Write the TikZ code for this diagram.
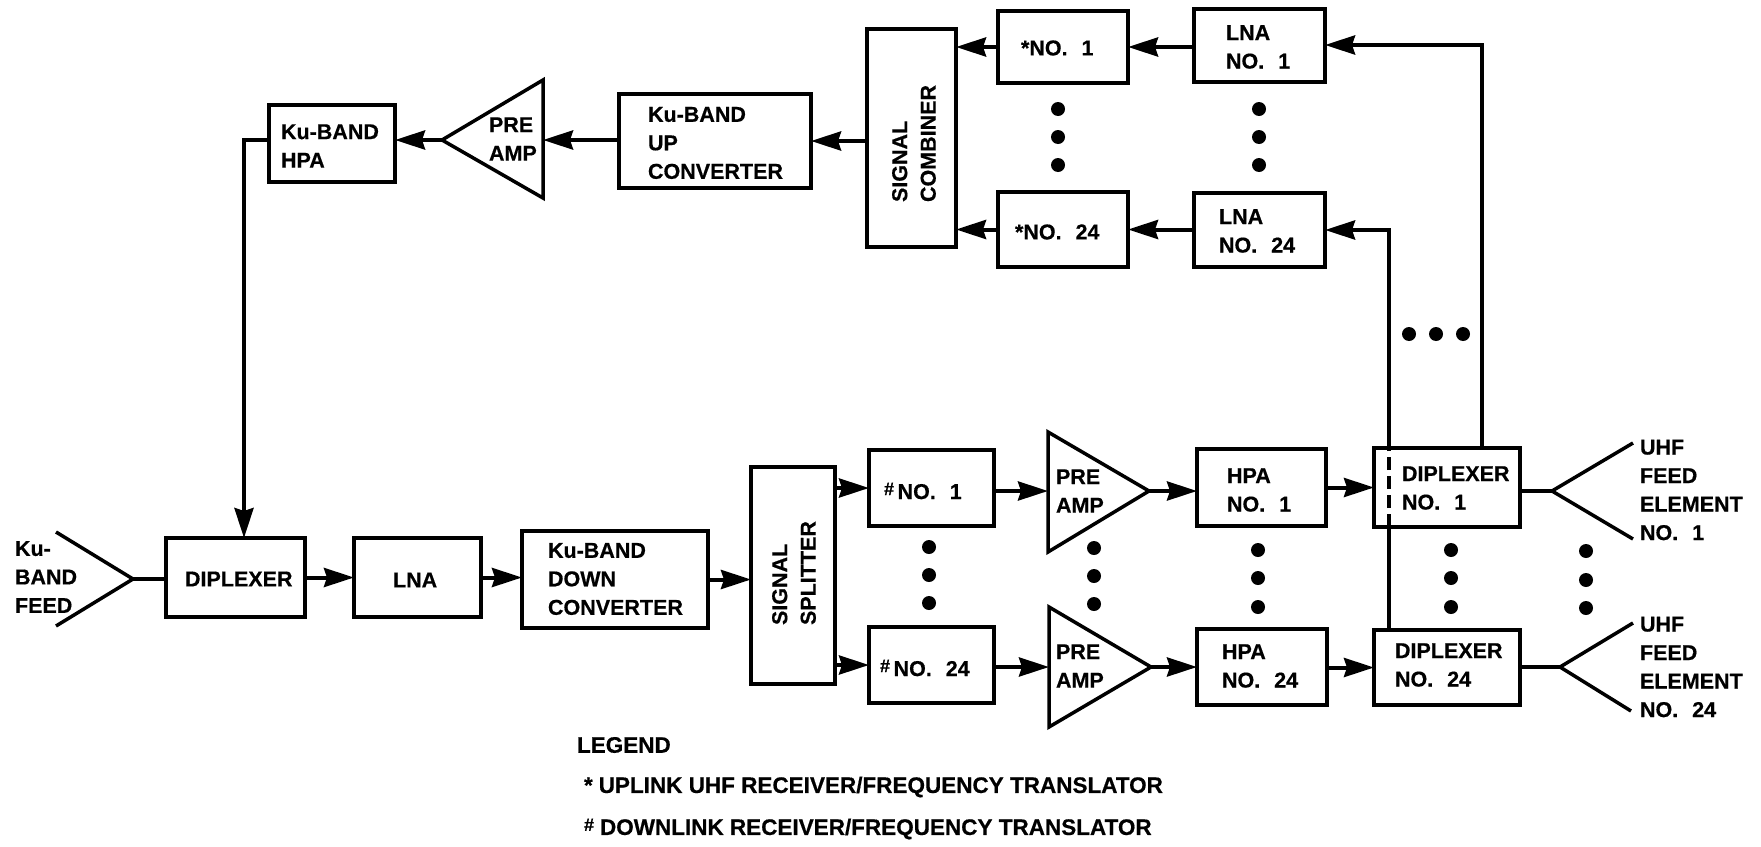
\documentclass[tikz,border=0pt]{standalone}
\usepackage{fontspec}
\setmainfont[BoldFeatures={FakeBold=0.5}]{Liberation Sans}
\usetikzlibrary{arrows.meta}
\newcommand\nsp{\hspace{8pt}}
\tikzset{
  boxn/.style={draw=black,line width=3.5pt,rectangle,inner sep=0pt,outer sep=0pt,fill=white},
  lbl/.style={anchor=west,align=left,inner sep=0pt,outer sep=0pt,font=\bfseries\fontsize{21.5}{28.5}\selectfont},
  leg/.style={anchor=west,inner sep=0pt,outer sep=0pt,font=\bfseries\fontsize{22.5}{24}\selectfont},
  rlbl/.style={lbl,rotate=90},
  wire/.style={line width=4pt,black},
  arr/.style={wire,-{Stealth[length=30pt,width=19pt,inset=3pt]}},
  thin wire/.style={line width=3.5pt,black},
  tri/.style={draw=black,line width=3.5pt,line join=miter},
  horn/.style={line width=3.5pt,black,line join=miter}
}
\newcommand\bx[5]{\node[boxn,minimum width={(#4-#2)*1pt},minimum height={(#5-#3)*1pt}] (#1) at ({(#2+#4)/2},{(#3+#5)/2}) {};}
\newcommand\dotv[2]{\fill[black] (#1,#2) circle (7);}
\newcommand\mk{{\fontsize{18}{18}\selectfont\raisebox{4pt}{\#}}}
\begin{document}
\begin{tikzpicture}[x=1pt,y=-1pt]
\useasboundingbox[fill=white] (0,0) rectangle (1761,846);

% boxes
\bx{hpaKu}{269}{105}{395}{182}
\bx{upc}{619}{94}{811}{188}
\bx{comb}{867}{29}{956}{247}
\bx{rxa}{998}{11}{1128}{83}
\bx{rxb}{998}{192}{1128}{267}
\bx{lnaa}{1194}{9}{1325}{82}
\bx{lnab}{1194}{193}{1325}{267}
\bx{dipK}{166}{538}{305}{617}
\bx{lnaK}{354}{538}{481}{617}
\bx{dnc}{522}{531}{708}{628}
\bx{split}{751}{467}{835}{684}
\bx{txa}{869}{450}{994}{526}
\bx{txb}{869}{627}{994}{703}
\bx{hpaa}{1197}{449}{1326}{526}
\bx{hpab}{1197}{629}{1327}{705}
\bx{dipa}{1374}{448}{1520}{527}
\bx{dipb}{1374}{630}{1520}{705}

% amplifier triangles
\coordinate (paU) at (442,140); \coordinate (paUb) at (543,140);
\draw[tri] (paU) -- (543,80) -- (543,198) -- cycle;
\coordinate (paA) at (1149,491); \coordinate (paAb) at (1048,491);
\draw[tri] (paA) -- (1048,432) -- (1048,552) -- cycle;
\coordinate (paB) at (1151,667); \coordinate (paBb) at (1049,667);
\draw[tri] (paB) -- (1049,607) -- (1049,727) -- cycle;

% feed horns
\coordinate (hk) at (133,579); \coordinate (hk1) at (56,532); \coordinate (hk2) at (56,626);
\draw[horn] (hk1) -- (hk) -- (hk2);
\draw[wire] (hk) -- (dipK.west |- hk);
\coordinate (ha) at (1552,491); \coordinate (ha1) at (1633,443); \coordinate (ha2) at (1633,539);
\draw[horn] (ha1) -- (ha) -- (ha2);
\draw[wire] (dipa.east |- ha) -- (ha);
\coordinate (hb) at (1560,667); \coordinate (hb1) at (1633,623); \coordinate (hb2) at (1631,711);
\draw[horn] (hb1) -- (hb) -- (hb2);
\draw[wire] (dipb.east |- hb) -- (hb);

% connectors: uplink chain
\coordinate (ra) at (1482,45);
\coordinate (rb) at (1389,230);
\draw[arr] (dipa.north -| ra) -- (ra) -- (lnaa.east |- ra);
\draw[arr] (lnaa.west |- rxa.east) -- (rxa.east);
\draw[arr] (rxa.west) -- (comb.east |- rxa.west);
\draw[arr] (lnab.west |- rxb.east) -- (rxb.east);
\draw[arr] (rxb.west) -- (comb.east |- rxb.west);
\draw[arr] (dipa.north -| rb) -- (rb) -- (lnab.east |- rb);
\draw[arr] (comb.west |- upc.east) -- (upc.east);
\draw[arr] (upc.west |- paUb) -- (paUb);
\draw[arr] (paU) -- (hpaKu.east |- paU);
\coordinate (elb) at (244,140);
\draw[arr] (hpaKu.west |- elb) -- (elb) -- (dipK.north -| elb);

% connectors: downlink chain
\draw[arr] (dipK.east) -- (lnaK.west);
\draw[arr] (lnaK.east) -- (dnc.west |- lnaK.east);
\draw[arr] (dnc.east) -- (split.west |- dnc.east);
\draw[arr] (split.east |- txa.west) -- (txa.west);
\draw[arr] (split.east |- txb.west) -- (txb.west);
\draw[arr] (txa.east |- paAb) -- (paAb);
\draw[arr] (txb.east |- paBb) -- (paBb);
\draw[arr] (paA) -- (hpaa.west |- paA);
\draw[arr] (paB) -- (hpab.west |- paB);
\draw[arr] (hpaa.east |- dipa.west) -- (dipa.west);
\draw[arr] (hpab.east |- dipb.west) -- (dipb.west);

% receive bus through diplexer no. 1
\draw[thin wire] (dipb.north -| rb) -- (dipa.south -| rb);
\draw[thin wire,dash pattern=on 13pt off 6pt] (dipa.south -| rb) -- (dipa.north -| rb);

% dots
\foreach \x in {1058,1259}{\foreach \y in {109,137,165}{\dotv{\x}{\y}}}
\foreach \x in {1409,1436,1463}{\dotv{\x}{334}}
\foreach \y in {547,575,603}{\dotv{929}{\y}}
\foreach \y in {548,576,604}{\dotv{1094}{\y}}
\foreach \y in {550,578,607}{\dotv{1258}{\y}}
\foreach \y in {550,578,607}{\dotv{1451}{\y}}
\foreach \y in {551,580,608}{\dotv{1586}{\y}}

% labels
\node[lbl] (tHpaKu) at (281,146) {Ku-BAND\\HPA};
\node[lbl] (tPaU) at (489,139) {PRE\\AMP};
\node[lbl] (tUpc) at (648,143) {Ku-BAND\\UP\\CONVERTER};
\node[rlbl] (tComb) at (914,202) {SIGNAL\\COMBINER};
\node[lbl] (tRxa) at (1021,48) {*NO. \nsp 1};
\node[lbl] (tRxb) at (1015,232) {*NO. \nsp 24};
\node[lbl] (tLnaa) at (1226,47) {LNA\\NO. \nsp 1};
\node[lbl] (tLnab) at (1219,231) {LNA\\NO. \nsp 24};
\node[lbl] (tKu) at (15,577) {Ku-\\BAND\\FEED};
\node[lbl] (tDipK) at (185,579) {DIPLEXER};
\node[lbl] (tLnaK) at (393,580) {LNA};
\node[lbl] (tDnc) at (548,579) {Ku-BAND\\DOWN\\CONVERTER};
\node[rlbl] (tSplit) at (794,625) {SIGNAL\\SPLITTER};
\node[lbl] (tTxa) at (884,491) {\mk\,NO. \nsp 1};
\node[lbl] (tTxb) at (880,668) {\mk\,NO. \nsp 24};
\node[lbl] (tPaA) at (1056,491) {PRE\\AMP};
\node[lbl] (tPaB) at (1056,666) {PRE\\AMP};
\node[lbl] (tHpaa) at (1227,490) {HPA\\NO. \nsp 1};
\node[lbl] (tHpab) at (1222,666) {HPA\\NO. \nsp 24};
\node[lbl] (tDipa) at (1402,488) {DIPLEXER\\NO. \nsp 1};
\node[lbl] (tDipb) at (1395,665) {DIPLEXER\\NO. \nsp 24};
\node[lbl] (tFa) at (1640,490) {UHF\\FEED\\ELEMENT\\NO. \nsp 1};
\node[lbl] (tFb) at (1640,667) {UHF\\FEED\\ELEMENT\\NO. \nsp 24};
\node[leg] (tLeg) at (577,745) {LEGEND};
\node[leg] (tLa) at (584,787) {*\hspace{6pt}UPLINK UHF RECEIVER/FREQUENCY TRANSLATOR};
\node[leg] (tLb) at (584,829) {\mk\hspace{6pt}DOWNLINK RECEIVER/FREQUENCY TRANSLATOR};
\end{tikzpicture}
\end{document}
